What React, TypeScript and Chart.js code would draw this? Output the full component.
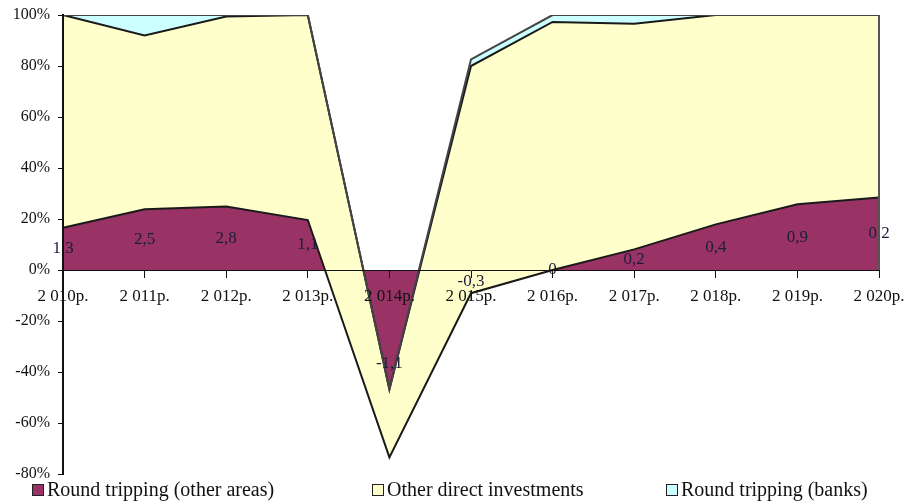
import React, { useEffect, useRef } from "react";
import { Chart, registerables } from "chart.js";

Chart.register(...registerables);

const categories = ["2 010р.", "2 011р.", "2 012р.", "2 013р.", "2 014р.", "2 015р.", "2 016р.", "2 017р.", "2 018р.", "2 019р.", "2 020р."];
// shares (%) of each component, as drawn (Excel-style stacked area)
const roundTripOther = [16.6, 23.8, 24.9, 19.6, -73.5, -9.1, 0, 8.1, 17.9, 25.8, 28.4];
const otherDirect = [83.4, 68.2, 74.5, 80.4, 26.7, 89.1, 97.3, 88.5, 82.1, 74.2, 71.6];
const roundTripBanks = [0, 8.0, 0.6, 0, 0, 2.6, 2.7, 3.4, 0, 0, 0];
const valueLabels = ["1,3", "2,5", "2,8", "1,1", "-1,1", "-0,3", "0", "0,2", "0,4", "0,9", "0,2"];
const seriesNames = ["Round tripping (other areas)", "Other direct investments", "Round tripping (banks)"];
const yTicks = { min: -80, max: 100, step: 20 };

const FONT = "'Liberation Serif', 'Times New Roman', serif";
const COLORS = ["#993366", "#FFFFCC", "#CCFFFF"];

export default function App() {
  const ref = useRef<HTMLCanvasElement | null>(null);
  useEffect(() => {
    if (!ref.current) return;
    const cum1 = roundTripOther.slice();
    const cum2 = cum1.map((v, i) => v + otherDirect[i]);
    const cum3 = cum2.map((v, i) => v + roundTripBanks[i]);

    const labelPlugin = {
      id: "valueLabels",
      afterDatasetsDraw(chart: any) {
        const ctx = chart.ctx;
        const xs = chart.scales.x;
        const ys = chart.scales.y;
        ctx.save();
        ctx.font = `17px ${FONT}`;
        ctx.fillStyle = "#1b1d3a";
        ctx.textAlign = "center";
        ctx.textBaseline = "middle";
        roundTripOther.forEach((v, i) => {
          ctx.fillText(valueLabels[i], xs.getPixelForValue(i), ys.getPixelForValue(v / 2));
        });
        const last = categories.length - 1;
        ctx.strokeStyle = "#555";
        ctx.lineWidth = 2;
        ctx.beginPath();
        ctx.moveTo(xs.getPixelForValue(last), ys.getPixelForValue(cum3[last]));
        ctx.lineTo(xs.getPixelForValue(last), ys.getPixelForValue(0));
        ctx.stroke();
        ctx.restore();
      },
      afterDraw(chart: any) {
        const ctx = chart.ctx;
        ctx.save();
        ctx.font = `20px ${FONT}`;
        ctx.textBaseline = "middle";
        ctx.textAlign = "left";
        const xsPos = [32, 372, 666];
        const yc = 490;
        seriesNames.forEach((name, i) => {
          ctx.fillStyle = COLORS[i];
          ctx.fillRect(xsPos[i], yc - 6, 12, 12);
          ctx.strokeStyle = "#222";
          ctx.lineWidth = 1;
          ctx.strokeRect(xsPos[i] + 0.5, yc - 5.5, 11, 11);
          ctx.fillStyle = "#111";
          ctx.fillText(name, xsPos[i] + 15, yc + 1);
        });
        ctx.restore();
      },
    };

    const chart = new Chart(ref.current, {
      type: "line",
      data: {
        labels: categories,
        datasets: [
          { label: seriesNames[0], data: cum1, backgroundColor: COLORS[0], borderColor: "#1a1a1a", borderWidth: 2, fill: "origin", order: 3, pointRadius: 0, tension: 0 },
          { label: seriesNames[1], data: cum2, backgroundColor: COLORS[1], borderColor: "#1a1a1a", borderWidth: 2, fill: "-1", order: 2, pointRadius: 0, tension: 0 },
          { label: seriesNames[2], data: cum3, backgroundColor: COLORS[2], borderColor: "#444", borderWidth: 2, fill: "-1", order: 1, pointRadius: 0, tension: 0 },
        ],
      },
      plugins: [labelPlugin],
      options: {
        animation: false,
        responsive: true,
        maintainAspectRatio: false,
        layout: { padding: { left: 0, top: 15, right: 36, bottom: 30 } },
        plugins: {
          legend: { display: false },
          tooltip: { enabled: false },
          filler: { drawTime: "beforeDatasetsDraw" },
        },
        scales: {
          x: {
            type: "category",
            position: { y: 0 },
            offset: false,
            afterFit: (s: any) => { s.paddingTop = 0; s.paddingBottom = 0; },
            grid: { display: true, drawOnChartArea: false, drawTicks: true, tickLength: 7, color: "#111", lineWidth: 1, z: 1 },
            border: { display: true, color: "#111", width: 1, z: 1 },
            ticks: { color: "#111", font: { family: FONT, size: 17 }, padding: 9, maxRotation: 0, autoSkip: false, z: 1 },
          },
          y: {
            min: yTicks.min,
            max: yTicks.max,
            afterFit: (s: any) => { s.width = 63; s.paddingTop = 0; s.paddingBottom = 0; },
            grid: { display: true, drawOnChartArea: false, drawTicks: true, tickLength: 5, color: "#111", lineWidth: 1 },
            border: { display: true, color: "#111", width: 2, z: 1 },
            ticks: { stepSize: yTicks.step, color: "#111", font: { family: FONT, size: 16 }, padding: 8, callback: (v: any) => v + "%" },
          },
        },
      },
    });
    return () => chart.destroy();
  }, []);
  return (
    <div style={{ position: "fixed", left: 0, top: 0, width: 915, height: 504, background: "#fff" }}>
      <canvas ref={ref} />
    </div>
  );
}
